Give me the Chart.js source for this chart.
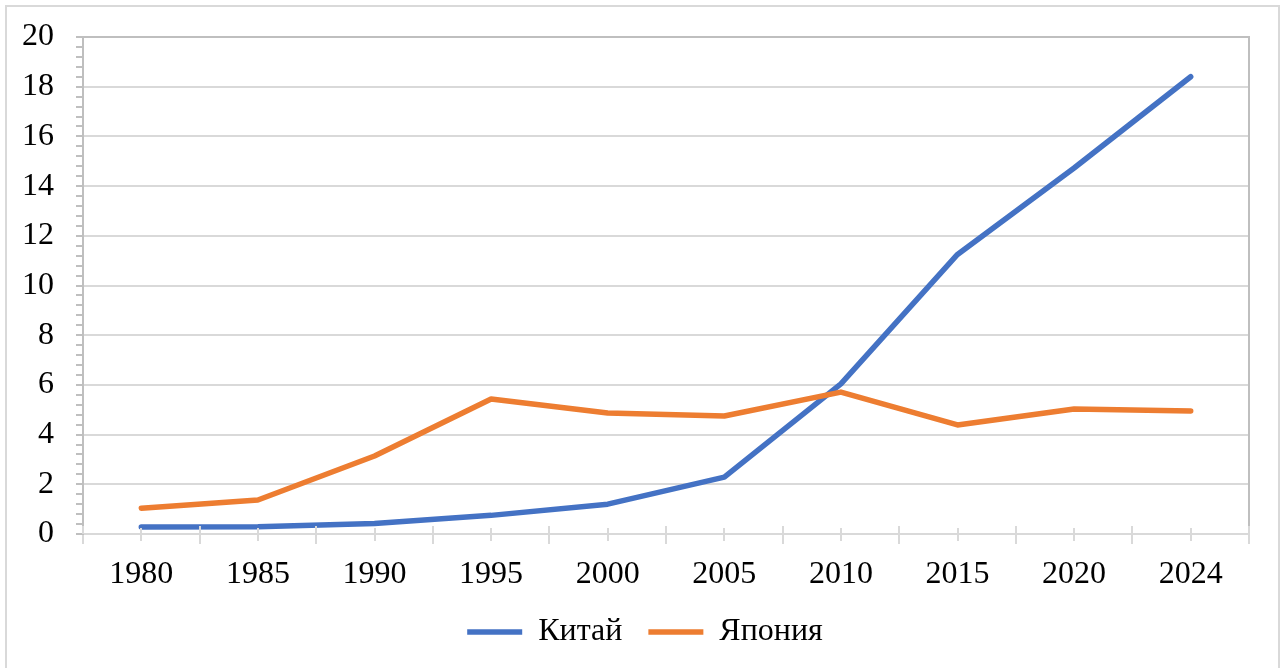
<!DOCTYPE html>
<html>
<head>
<meta charset="utf-8">
<script src="https://cdn.jsdelivr.net/npm/chart.js"></script>
<style>
body{margin:0;background:#fff;}
#frame{position:absolute;left:5px;top:5px;width:1271px;height:700px;border:2px solid #d9d9d9;}
#wrap{position:absolute;left:0;top:0;width:1283px;height:668px;}
</style>
</head>
<body>
<div id="frame"></div>
<div id="wrap"><canvas id="myChart" width="1283" height="668"></canvas></div>
<script>
var years = ['1980', '1985', '1990', '1995', '2000', '2005', '2010', '2015', '2020', '2024'];
var china = [0.28, 0.29, 0.42, 0.75, 1.2, 2.29, 6.04, 11.25, 14.73, 18.4];
var japan = [1.04, 1.37, 3.14, 5.43, 4.87, 4.75, 5.71, 4.39, 5.03, 4.95];
var yMin = 0, yMax = 20, yMajor = 2, yMinor = 0.4;

var fuente = 'Liberation Serif, Times New Roman, serif';

function esMayor(v){
  return Math.round(v * 10) % Math.round(yMajor * 10) === 0;
}

// marcas de la escala y marco del area (estilo Excel)
var marcas = {
  id: 'marcas',
  afterLayout: function(chart){
    // la leyenda va algo desplazada a la derecha
    if (chart.legend) chart.legend.left += 41;
  },
  afterDraw: function(chart){
    var ctx = chart.ctx, a = chart.chartArea, x = chart.scales.x;
    ctx.save();
    ctx.strokeStyle = '#d9d9d9';
    ctx.lineWidth = 2;
    // marcas cortas en cada categoria
    for (var i = 0; i < years.length; i++) {
      var px = Math.round(x.getPixelForTick(i));
      ctx.beginPath();
      ctx.moveTo(px, a.bottom - 6);
      ctx.lineTo(px, a.bottom + 7);
      ctx.stroke();
    }
    // parte superior de las marcas entre categorias
    for (var j = 0; j <= years.length; j++) {
      var pb = Math.round(x.left + (x.right - x.left) * j / years.length);
      ctx.beginPath();
      ctx.moveTo(pb, a.bottom - 8);
      ctx.lineTo(pb, a.bottom);
      ctx.stroke();
    }
    ctx.strokeStyle = '#bfbfbf';
    ctx.beginPath();
    ctx.moveTo(a.left, a.top);
    ctx.lineTo(a.right, a.top);
    ctx.lineTo(a.right, a.bottom - 8);
    ctx.stroke();
    ctx.restore();
  }
};

var ctx = document.getElementById('myChart');
var myChart = new Chart(ctx, {
  type: 'line',
  data: {
    labels: years,
    datasets: [
      {
        label: 'Китай',
        data: china,
        borderColor: '#4472c4',
        backgroundColor: '#4472c4',
        borderWidth: 5.5,
        borderCapStyle: 'round',
        borderJoinStyle: 'round',
        pointRadius: 0,
        fill: false,
        order: 1
      },
      {
        label: 'Япония',
        data: japan,
        borderColor: '#ed7d31',
        backgroundColor: '#ed7d31',
        borderWidth: 5.5,
        borderCapStyle: 'round',
        borderJoinStyle: 'round',
        pointRadius: 0,
        fill: false,
        order: 0
      }
    ]
  },
  options: {
    responsive: false,
    animation: false,
    layout: { padding: { top: 37, right: 34, left: 0, bottom: 10 } },
    plugins: {
      tooltip: { enabled: false },
      legend: {
        position: 'bottom',
        labels: {
          usePointStyle: true,
          pointStyle: 'line',
          pointStyleWidth: 55,
          padding: 26,
          color: '#000',
          font: { family: fuente, size: 32 },
          sort: function(a, b){ return a.datasetIndex - b.datasetIndex; }
        }
      }
    },
    scales: {
      x: {
        type: 'category',
        offset: true,
        afterFit: function(s){ s.height = 56; },
        grid: {
          offset: true,
          drawOnChartArea: false,
          tickLength: 10,
          color: '#d9d9d9',
          lineWidth: 2
        },
        border: { color: '#d9d9d9', width: 2 },
        ticks: {
          color: '#000',
          padding: 11,
          maxRotation: 0,
          font: { family: fuente, size: 32 }
        }
      },
      y: {
        min: yMin,
        max: yMax,
        afterFit: function(s){ s.width = 83; s.paddingTop = 0; s.paddingBottom = 0; },
        grid: {
          color: function(c){ return esMayor(c.tick.value) ? '#d9d9d9' : 'rgba(0,0,0,0)'; },
          tickColor: '#bfbfbf',
          tickLength: 7,
          lineWidth: 2
        },
        border: { color: '#bfbfbf', width: 2 },
        ticks: {
          stepSize: yMinor,
          maxTicksLimit: 100,
          autoSkip: false,
          padding: 22,
          color: '#000',
          font: { family: fuente, size: 32 },
          callback: function(v){ return esMayor(v) ? Math.round(v) : ''; }
        }
      }
    }
  },
  plugins: [marcas]
});
</script>
</body>
</html>
